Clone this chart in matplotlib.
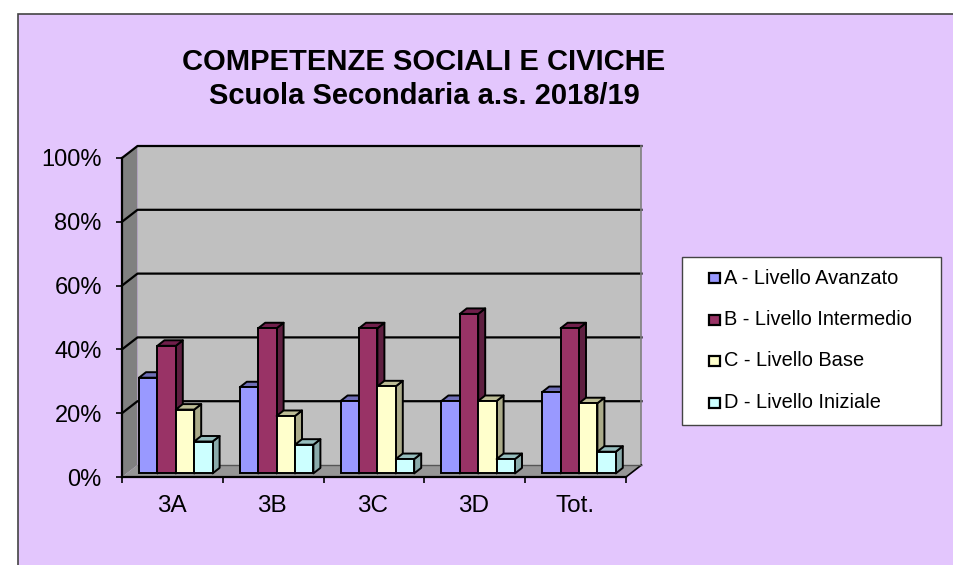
#recreating the 3D looking clustered bar chart
import numpy as np
import matplotlib
matplotlib.use('Agg')
import matplotlib.pyplot as plt
from matplotlib.patches import Rectangle

categories = ['3A', '3B', '3C', '3D', 'Tot.']
series_names = ['A - Livello Avanzato', 'B - Livello Intermedio', 'C - Livello Base', 'D - Livello Iniziale']
livello_a = [30, 27, 22.7, 22.7, 25.5]
livello_b = [40, 45.5, 45.5, 50, 45.5]
livello_c = [20, 18, 27.3, 22.7, 22]
livello_d = [10, 9, 4.5, 4.5, 6.8]
yticks = [0, 20, 40, 60, 80, 100]

fronts = ['#9999FF', '#993366', '#FFFFCC', '#CCFFFF']
tops = ['#6F6FB8', '#701F4B', '#BDBD96', '#96BDBD']
sides = ['#5F5F9F', '#5E1F40', '#ABAB8A', '#8AABAB']
W, H = 954, 565

plt.rcParams['font.family'] = ['Liberation Sans', 'DejaVu Sans']
fig = plt.figure(figsize=(W/100, H/100), dpi=100, facecolor='white')

#chart background, goes past the bottom and right of the picture
fig.patches.append(Rectangle((18/W, -0.02), 1.02-18/W, 1.02-14/H, transform=fig.transFigure,
                             fc='#E3C6FD', ec='#444444', lw=1.2, zorder=-2))

#axes = front plane of the 3D box
ax = fig.add_axes([122/W, 1-477/H, (626-122)/W, (477-158)/H])
ax.set_xlim(0, 5)
ax.set_ylim(0, 100)
ax.patch.set_visible(False)
for s in ['top', 'right']:
    ax.spines[s].set_visible(False)
for s in ['left', 'bottom']:
    ax.spines[s].set_linewidth(1.6)

px = 5/(626-122)
py = 100/(477-158)
dx, dy = 15.5*px, 12*py #depth of the box

ax.fill([0, dx, dx, 0], [0, dy, 100+dy, 100], fc='#808080', ec='none', clip_on=False, zorder=1)
ax.fill([dx, 5+dx, 5+dx, dx], [dy, dy, 100+dy, 100+dy], fc='#C0C0C0', ec='none', clip_on=False, zorder=1)
ax.fill([0, 5, 5+dx, dx], [0, 0, dy, dy], fc='#969696', ec='none', clip_on=False, zorder=1)

#grid on back wall and left wall
for v in yticks[1:]:
    ax.plot([0, dx, 5+dx], [v, v+dy, v+dy], color='black', lw=1.6, clip_on=False, zorder=2)
ax.plot([5+dx, 5+dx], [dy, 100+dy], color='#808080', lw=1.2, clip_on=False, zorder=2)
ax.plot([5, 5+dx], [0, dy], color='black', lw=1.2, clip_on=False, zorder=2)
ax.plot([dx, 5+dx], [dy, dy], color='#555555', lw=1, clip_on=False, zorder=2)

#bars
series = [livello_a, livello_b, livello_c, livello_d]
bw = 18.4*px
x0 = 17*px
ox, oy = 7*px, 5.5*py #depth of one bar
base = 3.6*py
z = 3
for i in range(len(categories)):
    for j in range(len(series)):
        xl = i + x0 + j*bw
        top = series[j][i] + base
        ax.fill([xl+bw, xl+bw+ox, xl+bw+ox, xl+bw], [base, base+oy, top+oy, top], fc=sides[j],
                ec='black', lw=1.4, joinstyle='round', zorder=z)
        ax.fill([xl, xl+ox, xl+bw+ox, xl+bw], [top, top+oy, top+oy, top], fc=tops[j],
                ec='black', lw=1.4, joinstyle='round', zorder=z)
        ax.bar(xl, top-base, bw, bottom=base, align='edge', color=fronts[j], edgecolor='black',
               linewidth=1.4, zorder=z+1)
        z += 2

ax.set_xticks(np.arange(len(categories)+1))
ax.set_xticklabels([])
ax.set_xticks(np.arange(len(categories))+0.49, categories, minor=True)
ax.tick_params(axis='x', which='major', length=4.5, width=1.2, direction='out')
ax.tick_params(axis='x', which='minor', length=0, labelsize=17.5, pad=13)
ax.set_yticks(yticks)
ax.set_yticklabels([str(v)+'%' for v in yticks], fontsize=17)
ax.tick_params(axis='y', length=4.5, width=1.2, pad=10)

#title
fig.text(424/W, 1-62/H, 'COMPETENZE SOCIALI E CIVICHE', fontsize=21, fontweight='bold', ha='center', va='center')
fig.text(424/W, 1-96/H, 'Scuola Secondaria a.s. 2018/19', fontsize=21, fontweight='bold', ha='center', va='center')

#legend box
fig.patches.append(Rectangle((682/W, 1-425/H), (941-682)/W, (425-257)/H, transform=fig.transFigure,
                             fc='white', ec='#444444', lw=1, zorder=-1))
for j, name in enumerate(series_names):
    yy = 1-(278+41.5*j)/H
    fig.patches.append(Rectangle((709/W, yy-5/H), 11/W, 10/H, transform=fig.transFigure,
                                 fc=fronts[j], ec='black', lw=1.6, zorder=-1))
    fig.text(724/W, yy, name, fontsize=14.4, va='center', ha='left')

plt.savefig('out.png', dpi=100)
